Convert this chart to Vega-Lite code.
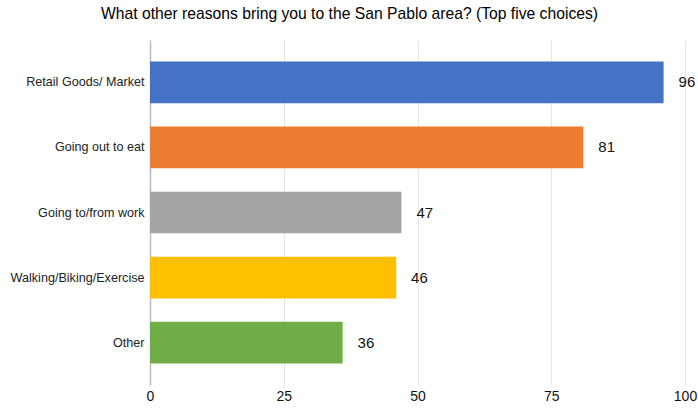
{
  "$schema": "https://vega.github.io/schema/vega-lite/v6.json",
  "autosize": "none",
  "width": 535,
  "height": 345,
  "padding": {"left": 150, "top": 40, "right": 13, "bottom": 23},
  "background": "white",
  "title": {
    "text": "What other reasons bring you to the San Pablo area? (Top five choices)",
    "fontSize": 15.7,
    "fontWeight": "normal",
    "font": "Liberation Sans",
    "color": "#000000",
    "anchor": "middle",
    "dx": -68,
    "offset": 17
  },
  "config": {
    "view": {"stroke": null},
    "font": "Liberation Sans"
  },
  "data": {
    "values": [
      {"reason": "Retail Goods/ Market", "count": 96, "color": "#4472C4"},
      {"reason": "Going out to eat", "count": 81, "color": "#ED7D31"},
      {"reason": "Going to/from work", "count": 47, "color": "#A5A5A5"},
      {"reason": "Walking/Biking/Exercise", "count": 46, "color": "#FFC000"},
      {"reason": "Other", "count": 36, "color": "#70AD47"}
    ]
  },
  "encoding": {
    "y": {
      "field": "reason",
      "type": "nominal",
      "sort": null,
      "scale": {"paddingInner": 0.36, "paddingOuter": 0.33},
      "axis": {
        "title": null,
        "ticks": false,
        "labelPadding": 6,
        "labelFontSize": 12.6,
        "labelColor": "#222222",
        "domainColor": "#bbbbbb",
        "domainWidth": 1.5,
        "labelLimit": 200
      }
    },
    "x": {
      "field": "count",
      "type": "quantitative",
      "scale": {"domain": [0, 100], "nice": false},
      "axis": {
        "title": null,
        "values": [0, 25, 50, 75, 100],
        "ticks": false,
        "domain": false,
        "labelPadding": 4,
        "labelFontSize": 14,
        "labelColor": "#111111",
        "gridColor": "#e4e4e4",
        "labelFlush": false
      }
    }
  },
  "layer": [
    {
      "mark": {"type": "bar"},
      "encoding": {
        "color": {"field": "color", "type": "nominal", "scale": null}
      }
    },
    {
      "mark": {"type": "text", "align": "left", "dx": 15, "fontSize": 15, "color": "#111111"},
      "encoding": {
        "text": {"field": "count", "type": "quantitative"}
      }
    }
  ]
}
